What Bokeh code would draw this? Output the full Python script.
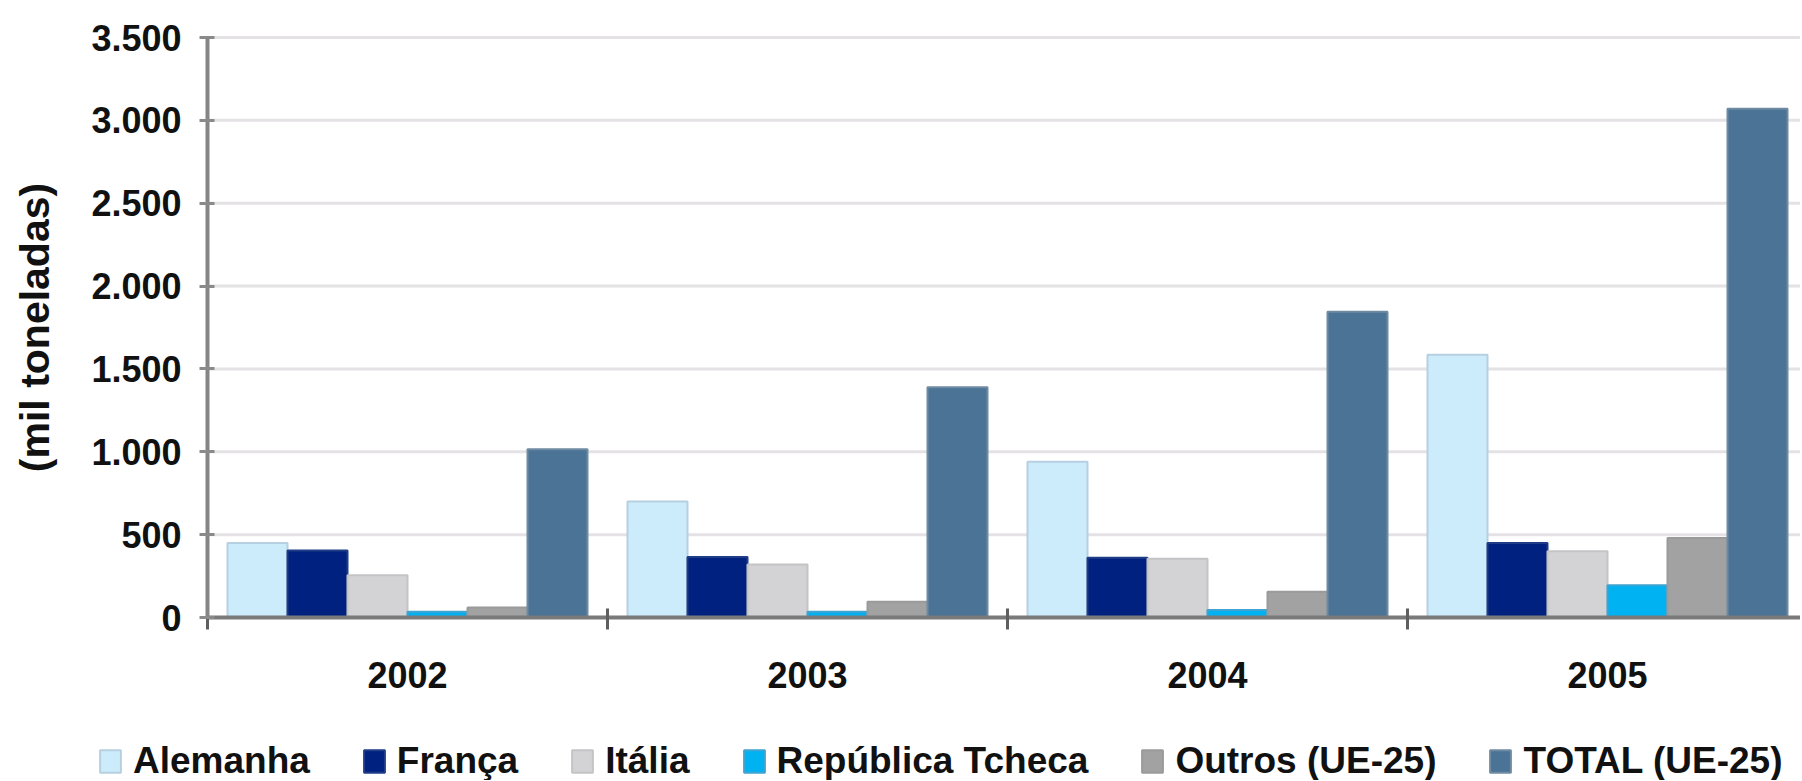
from bokeh.plotting import figure
from bokeh.models import (Range1d, FixedTicker, Legend, LegendItem, ColumnDataSource,
                          LinearAxis)
from bokeh.transform import dodge
from bokeh.embed import file_html
from bokeh.resources import INLINE

# ---------------- data ----------------
years = ["2002", "2003", "2004", "2005"]
series_names = ["Alemanha", "França", "Itália", "República Tcheca",
                "Outros (UE-25)", "TOTAL (UE-25)"]
alemanha = [450, 700, 940, 1585]
franca = [405, 365, 360, 450]
italia = [255, 320, 355, 400]
rep_tcheca = [35, 35, 45, 195]
outros = [60, 95, 155, 480]
total = [1015, 1390, 1845, 3070]

y_ticks = [0, 500, 1000, 1500, 2000, 2500, 3000, 3500]
y_tick_labels = ["0", "500", "1.000", "1.500", "2.000", "2.500", "3.000", "3.500"]
y_title = "(mil toneladas)"

# ---------------- styles / geometry ----------------
fills = ["#CCEBFB", "#00217F", "#D3D3D5", "#00B2F2", "#A2A2A2", "#4B7396"]
outlines = ["#B6D0E2", "#1F3C86", "#C4C4C6", "#3FA4D2", "#9A9A9A", "#6F8BA2"]
offsets = [-0.375, -0.225, -0.075, 0.075, 0.225, 0.375]
FONT = "Liberation Sans"

W, H = 1800, 780
left_px, top_px, zero_px = 207, 37, 617      # axis position on the page
slot_px = 400.0                               # width of one year slot
y_max = y_ticks[-1]
px_per_unit = (zero_px - top_px) / y_max

x_start = -left_px / slot_px
x_end = (W - left_px) / slot_px
y_end = y_max + top_px / px_per_unit
y_start = -(H - zero_px) / px_per_unit

# category slots on a numeric axis: slot i spans [i, i+1]
centers = [i + 0.5 for i in range(len(years))]
bounds = [float(i) for i in range(len(years) + 1)]

keys = ["s0", "s1", "s2", "s3", "s4", "s5"]
source = ColumnDataSource(data=dict(pos=centers, s0=alemanha, s1=franca, s2=italia,
                                    s3=rep_tcheca, s4=outros, s5=total))

p = figure(x_range=Range1d(x_start, x_end), y_range=Range1d(y_start, y_end),
           width=W, height=H, output_backend="svg", toolbar_location=None,
           x_axis_location=None, y_axis_location=None,
           min_border_left=0, min_border_right=0,
           min_border_top=0, min_border_bottom=0)
p.outline_line_color = None
p.background_fill_color = "white"
p.border_fill_color = "white"
p.grid.visible = False

# horizontal gridlines, starting at the y axis
p.segment(x0=0, x1=x_end, y0=y_ticks, y1=y_ticks,
          line_color="#E4E2E4", line_width=3, level="underlay")

# y axis fixed at the left edge of the first slot
ya = LinearAxis(fixed_location=0, bounds=(0, y_max),
                ticker=FixedTicker(ticks=y_ticks))
ya.major_label_overrides = {t: l for t, l in zip(y_ticks, y_tick_labels)}
ya.axis_line_color = "#858585"
ya.axis_line_width = 4
ya.major_tick_line_color = "#8A8A8A"
ya.major_tick_line_width = 3
ya.major_tick_in = 7
ya.major_tick_out = 8
ya.minor_tick_line_color = None
ya.major_label_standoff = 18
ya.major_label_text_font = FONT
ya.major_label_text_font_style = "bold"
ya.major_label_text_font_size = "36px"
ya.major_label_text_color = "#111111"
ya.axis_label = y_title
ya.axis_label_text_font = FONT
ya.axis_label_text_font_style = "bold"
ya.axis_label_text_font_size = "41px"
ya.axis_label_text_color = "#111111"
ya.axis_label_standoff = 30
p.add_layout(ya, "left")

# x axis fixed at y = 0: labels at slot centres, tick marks at slot boundaries
xa = LinearAxis(fixed_location=0, bounds=(0, x_end),
                ticker=FixedTicker(ticks=centers, minor_ticks=bounds))
xa.major_label_overrides = {c: y for c, y in zip(centers, years)}
xa.axis_line_color = "#7A7A7A"
xa.axis_line_width = 4
xa.major_tick_line_color = None
xa.major_tick_out = 0
xa.major_tick_in = 0
xa.minor_tick_line_color = "#5F5F5F"
xa.minor_tick_line_width = 3
xa.minor_tick_out = 12
xa.minor_tick_in = 9
xa.major_label_standoff = 32
xa.major_label_text_font = FONT
xa.major_label_text_font_style = "bold"
xa.major_label_text_font_size = "36px"
xa.major_label_text_color = "#111111"
p.add_layout(xa, "below")

# bars
items = []
for name, key, fc, lc, off in zip(series_names, keys, fills, outlines, offsets):
    r = p.vbar(x=dodge("pos", off), top=key, width=0.15,
               source=source, fill_color=fc, line_color=lc, line_width=2)
    items.append(LegendItem(label=name, renderers=[r]))

legend = Legend(items=items, orientation="horizontal", location=(97, -2),
                padding=0, margin=0, spacing=51,
                glyph_width=26, glyph_height=28, label_standoff=10,
                label_text_font=FONT, label_text_font_style="bold",
                label_text_font_size="37px", label_text_color="#111111",
                background_fill_alpha=0, border_line_color=None)
p.add_layout(legend, "center")

open("out.html", "w").write(file_html(p, INLINE))
